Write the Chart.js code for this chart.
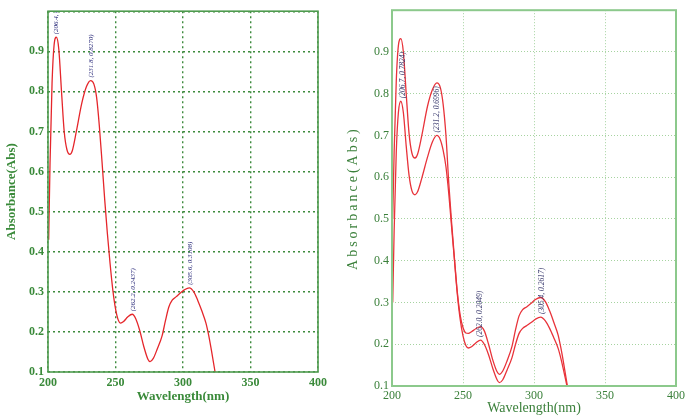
<!DOCTYPE html>
<html>
<head>
<meta charset="utf-8">
<script src="https://cdn.jsdelivr.net/npm/chart.js@4.4.1/dist/chart.umd.min.js"></script>
<style>
  html, body { margin: 0; padding: 0; background: #fff; overflow: hidden; }
  #wrap { position: relative; width: 685px; height: 418px; overflow: hidden; }
  #c1 { position: absolute; left: 0; top: 0; }
  #c2 { position: absolute; left: 340px; top: 0; }
</style>
</head>
<body>
<div id="wrap">
  <canvas id="c1" width="340" height="418"></canvas>
  <canvas id="c2" width="360" height="418"></canvas>
</div>
<script>
// wavelengths (nm) shared by all curves
const wl = [200.5, 201.5, 203, 204.5, 206.2, 208, 210, 212, 214, 216.2, 218, 221, 225, 228.5, 231.6,
  234, 236, 238, 240, 242, 244, 246, 248, 250, 252, 253.8, 256, 259, 262.4, 265, 268, 271, 274, 275.6,
  278, 281, 284.5, 287, 289.5, 292, 295, 298, 301, 304.7, 308, 311, 314, 317, 319, 321, 323.5, 326];

// left spectrum
const absLeft = [0.43, 0.62, 0.82, 0.915, 0.935, 0.905, 0.80, 0.70, 0.655, 0.643, 0.652, 0.70, 0.77, 0.812, 0.827,
  0.818, 0.785, 0.715, 0.625, 0.53, 0.445, 0.37, 0.305, 0.258, 0.23, 0.222, 0.226, 0.237, 0.244, 0.233, 0.203, 0.163, 0.132, 0.126,
  0.134, 0.158, 0.19, 0.228, 0.262, 0.279, 0.288, 0.297, 0.305, 0.31, 0.30, 0.278, 0.252, 0.222, 0.192, 0.155, 0.105, 0.05];

// right spectra (upper and lower trace)
const absRightA = [0.5, 0.66, 0.83, 0.915, 0.932, 0.90, 0.80, 0.705, 0.658, 0.646, 0.655, 0.70, 0.77, 0.81, 0.826,
  0.815, 0.775, 0.70, 0.585, 0.49, 0.405, 0.325, 0.27, 0.24, 0.227, 0.226, 0.23, 0.237, 0.242, 0.232, 0.20, 0.162, 0.134, 0.128,
  0.136, 0.16, 0.195, 0.235, 0.268, 0.283, 0.29, 0.298, 0.307, 0.312, 0.302, 0.28, 0.252, 0.222, 0.19, 0.152, 0.10, 0.05];
const absRightB = [0.30, 0.47, 0.66, 0.755, 0.782, 0.755, 0.675, 0.605, 0.568, 0.558, 0.565, 0.598, 0.648, 0.685, 0.70,
  0.69, 0.665, 0.625, 0.56, 0.48, 0.40, 0.32, 0.26, 0.22, 0.197, 0.191, 0.194, 0.203, 0.21, 0.20, 0.175, 0.142, 0.115, 0.108,
  0.115, 0.138, 0.168, 0.20, 0.226, 0.238, 0.245, 0.252, 0.26, 0.265, 0.256, 0.238, 0.215, 0.19, 0.165, 0.135, 0.095, 0.05];

// peak labels
const leftPeakWl = [206.2, 231.8, 262.8, 305.6];
const leftPeakAbs = [0.935, 0.827, 0.244, 0.31];
const leftPeakText = ['(206.4, 0.9', '(231.8, 0.8270)', '(262.2, 0.2437)', '(305.6, 0.3108)'];
const rightPeakWl = [207.6, 231.7, 262.0, 305.6];
const rightPeakAbs = [0.782, 0.70, 0.21, 0.265];
const rightPeakText = ['(206.7, 0.7824)', '(231.2, 0.6996)', '(262.0, 0.2049)', '(305.4, 0.2617)'];

const serif = '"Liberation Serif", "Times New Roman", serif';

const peakLabels = {
  id: 'peakLabels',
  afterDatasetsDraw(chart, args, o) {
    const { ctx, chartArea: a, scales: { x, y } } = chart;
    ctx.save();
    ctx.beginPath();
    ctx.rect(a.left, a.top, a.right - a.left, a.bottom - a.top);
    ctx.clip();
    ctx.font = o.font;
    ctx.fillStyle = o.color;
    ctx.textAlign = 'left';
    ctx.textBaseline = 'middle';
    o.text.forEach((t, i) => {
      ctx.save();
      ctx.translate(x.getPixelForValue(o.wl[i]), y.getPixelForValue(o.abs[i]) - 3);
      ctx.rotate(-Math.PI / 2);
      ctx.fillText(t, 0, 0);
      ctx.restore();
    });
    ctx.restore();
  }
};

// solid frame round the plot area
const frame = {
  id: 'frame',
  afterDraw(chart, args, o) {
    const { ctx, chartArea: a } = chart;
    ctx.save();
    ctx.strokeStyle = o.color;
    ctx.lineWidth = o.width;
    ctx.strokeRect(a.left, a.top, a.right - a.left, a.bottom - a.top);
    ctx.restore();
  }
};

// y title with letter spacing (right panel)
const spacedTitle = {
  id: 'spacedTitle',
  afterDraw(chart, args, o) {
    if (!o.text) return;
    const { ctx, chartArea: a } = chart;
    ctx.save();
    ctx.font = o.font;
    ctx.fillStyle = o.color;
    ctx.letterSpacing = o.spacing;
    ctx.textAlign = 'center';
    ctx.textBaseline = 'middle';
    ctx.translate(o.x, (a.top + a.bottom) / 2);
    ctx.rotate(-Math.PI / 2);
    ctx.fillText(o.text, 0, 0);
    ctx.restore();
  }
};

function line(data, color) {
  return {
    data: wl.map((w, i) => ({ x: w, y: data[i] })),
    borderColor: color,
    borderWidth: 1.3,
    pointRadius: 0,
    fill: false,
    cubicInterpolationMode: 'monotone'
  };
}

// left panel
new Chart(document.getElementById('c1'), {
  type: 'line',
  data: { datasets: [line(absLeft, '#e5262b')] },
  options: {
    responsive: false,
    animation: false,
    layout: { padding: { top: 9, right: 22, left: 0, bottom: 0 } },
    plugins: {
      legend: { display: false },
      tooltip: { enabled: false },
      peakLabels: { wl: leftPeakWl, abs: leftPeakAbs, text: leftPeakText, font: 'italic 7px ' + serif, color: '#2b2b7a' },
      frame: { color: '#4e9a4e', width: 1.6 },
      spacedTitle: {}
    },
    scales: {
      x: {
        type: 'linear', min: 200, max: 400,
        ticks: { stepSize: 50, padding: 4, color: '#3a8a3a', font: { family: serif, size: 12, weight: 'bold' } },
        grid: { color: '#3d8b3d', lineWidth: 1.4, drawTicks: false },
        border: { display: false, dash: [2, 3] },
        title: { display: true, text: 'Wavelength(nm)', color: '#3a8a3a', font: { family: serif, size: 13, weight: 'bold' }, padding: { top: 0, bottom: 14 } },
        afterFit: s => { s.height = 46; }
      },
      y: {
        min: 0.1, max: 1.0,
        ticks: { stepSize: 0.1, padding: 4, color: '#3a8a3a', font: { family: serif, size: 12, weight: 'bold' },
          callback: v => v > 0.95 ? '' : v.toFixed(1) },
        grid: { color: '#3d8b3d', lineWidth: 1.4, drawTicks: false },
        border: { display: false, dash: [2, 3] },
        title: { display: true, text: 'Absorbance(Abs)', color: '#3a8a3a', font: { family: serif, size: 13, weight: 'bold' }, padding: { top: 4, bottom: 0 } },
        afterFit: s => { s.width = 48; }
      }
    }
  },
  plugins: [peakLabels, frame, spacedTitle]
});

// right panel
new Chart(document.getElementById('c2'), {
  type: 'line',
  data: { datasets: [line(absRightA, '#e8333a'), line(absRightB, '#e8333a')] },
  options: {
    responsive: false,
    animation: false,
    layout: { padding: { top: 4, right: 24, left: 0, bottom: 0 } },
    plugins: {
      legend: { display: false },
      tooltip: { enabled: false },
      peakLabels: { wl: rightPeakWl, abs: rightPeakAbs, text: rightPeakText, font: 'italic 7.5px ' + serif, color: '#3a3a6e' },
      frame: { color: '#8cc98c', width: 2 },
      spacedTitle: { text: 'Absorbance(Abs)', x: 13, font: '14px ' + serif, color: '#3b803b', spacing: '3px' }
    },
    scales: {
      x: {
        type: 'linear', min: 200, max: 400,
        ticks: { stepSize: 50, padding: 3, color: '#3b803b', font: { family: serif, size: 12 } },
        grid: { color: '#a6d3a0', lineWidth: 1, drawTicks: false },
        border: { display: false, dash: [1, 2] },
        title: { display: true, text: 'Wavelength(nm)', color: '#3b803b', font: { family: serif, size: 14 }, padding: { top: 0, bottom: 1 } },
        afterFit: s => { s.height = 32; }
      },
      y: {
        min: 0.1, max: 1.0,
        ticks: { stepSize: 0.1, padding: 3, color: '#3b803b', font: { family: serif, size: 12 },
          callback: v => v > 0.95 ? '' : v.toFixed(1) },
        grid: { color: '#a6d3a0', lineWidth: 1, drawTicks: false },
        border: { display: false, dash: [1, 2] },
        afterFit: s => { s.width = 52; }
      }
    }
  },
  plugins: [peakLabels, frame, spacedTitle]
});
</script>
</body>
</html>
